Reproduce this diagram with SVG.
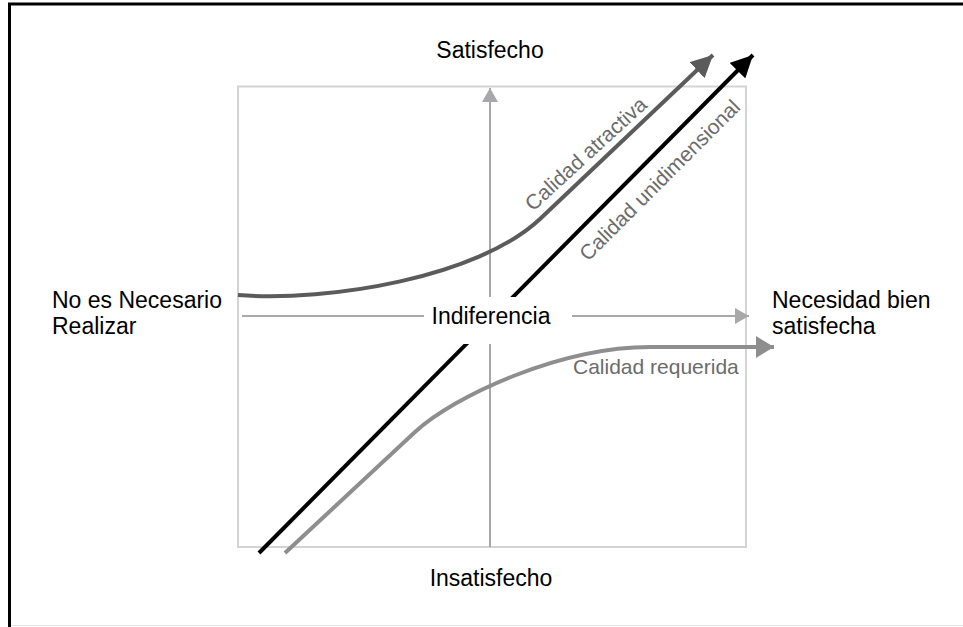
<svg xmlns="http://www.w3.org/2000/svg" width="963" height="627" viewBox="0 0 963 627">
<style>
text{font-family:"Liberation Sans",Arial,sans-serif}
.lbl{font-size:23px;fill:#000}
.clbl{font-size:21px;fill:#6b6b6b}
.axis{stroke:#a8a8aa;stroke-width:2;fill:none}
</style>
<defs>
<marker id="ahAxis" markerUnits="userSpaceOnUse" markerWidth="16" markerHeight="16" refX="14" refY="8" orient="auto"><path d="M0,0 L14,8 L0,16 z" fill="#a8a8aa"/></marker>
<marker id="ahAtr" markerUnits="userSpaceOnUse" markerWidth="24" markerHeight="22" refX="22" refY="11" orient="auto"><path d="M0,0 L22,11 L0,22 z" fill="#5b5b5b"/></marker>
<marker id="ahUni" markerUnits="userSpaceOnUse" markerWidth="24" markerHeight="22" refX="22" refY="11" orient="auto"><path d="M0,0 L22,11 L0,22 z" fill="#000"/></marker>
<marker id="ahReq" markerUnits="userSpaceOnUse" markerWidth="20" markerHeight="22" refX="18" refY="11" orient="auto"><path d="M0,0 L18,11 L0,22 z" fill="#8e8e8e"/></marker>
</defs>
<rect width="963" height="627" fill="#fff"/>
<g id="frame">
<line x1="8" y1="4" x2="963" y2="4" stroke="#000" stroke-width="3"/>
<line x1="9.5" y1="3" x2="9.5" y2="627" stroke="#000" stroke-width="3"/>
<line x1="11" y1="625.5" x2="963" y2="625.5" stroke="#e4e4e4" stroke-width="1"/>
<rect x="238" y="86.5" width="508" height="460.5" fill="none" stroke="#d4d4d4" stroke-width="2"/>
</g>
<g id="connectors">
<line class="axis" x1="490" y1="547" x2="490" y2="88" marker-end="url(#ahAxis)"/>
<line class="axis" x1="242" y1="316" x2="749" y2="316" marker-end="url(#ahAxis)"/>
<path id="atractiva" d="M238,295 C330,302 478,277 540,219 L713,55" fill="none" stroke="#5b5b5b" stroke-width="4" marker-end="url(#ahAtr)"/>
<line id="unidimensional" x1="259" y1="553" x2="753" y2="55" stroke="#000" stroke-width="4" marker-end="url(#ahUni)"/>
<path id="requerida" d="M285,553 L415,432 C454,396 560,347 650,347 L774,347" fill="none" stroke="#8e8e8e" stroke-width="4" marker-end="url(#ahReq)"/>
</g>
<g id="indiferencia">
<rect x="424" y="297" width="148" height="47" fill="#fff"/>
<text class="lbl" x="491" y="324" text-anchor="middle">Indiferencia</text>
</g>
<g id="satisfecho"><text class="lbl" x="490" y="58" text-anchor="middle">Satisfecho</text></g>
<g id="insatisfecho"><text class="lbl" x="491" y="586" text-anchor="middle">Insatisfecho</text></g>
<g id="no-necesario"><text class="lbl" x="52" y="308">No es Necesario</text><text class="lbl" x="52" y="334">Realizar</text></g>
<g id="necesidad"><text class="lbl" x="772" y="308">Necesidad bien</text><text class="lbl" x="772" y="334">satisfecha</text></g>
<g id="labels">
<text class="clbl" x="573" y="374">Calidad requerida</text>
<text class="clbl" transform="translate(533,212) rotate(-42.5)">Calidad atractiva</text>
<text class="clbl" transform="translate(588,262) rotate(-45)">Calidad unidimensional</text>
</g>
</svg>
